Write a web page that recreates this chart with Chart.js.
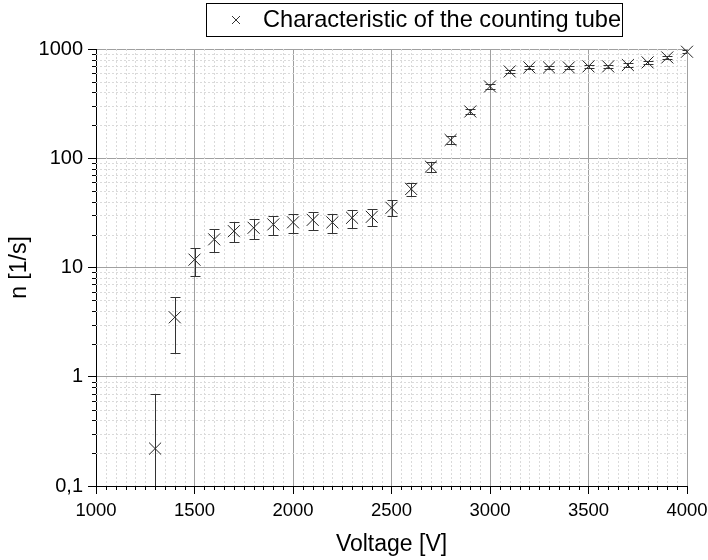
<!DOCTYPE html>
<html lang="en">
  <head>
    <meta charset="UTF-8" />
    <title>Counting tube characteristic</title>
    <script src="https://cdn.jsdelivr.net/npm/chart.js@4.4.0/dist/chart.umd.min.js"></script>
    <style>
      html,
      body {
        margin: 0;
        padding: 0;
        background: #fff;
      }
      #tubeChart {
        display: block;
      }
    </style>
  </head>
  <body>
    <canvas id="tubeChart" width="708" height="560"></canvas>

    <script>
      // measured points (voltage in V, count rate in 1/s, error)
      const voltage = [
        1300, 1400, 1500, 1600, 1700, 1800, 1900, 2000, 2100, 2200, 2300, 2400, 2500, 2600,
        2700, 2800, 2900, 3000, 3100, 3200, 3300, 3400, 3500, 3600, 3700, 3800, 3900, 4000,
      ];
      const rate = [
        0.22, 3.5, 11.8, 18.1, 21.5, 23.1, 24.8, 25.9, 27.3, 25.9, 28.5, 29.1, 35.2, 52.3,
        83.8, 147, 268, 454, 623, 678, 678, 678, 693, 693, 713, 754, 837, 944,
      ];
      const rateErr = [
        0.47, 1.85, 3.4, 4.2, 4.5, 4.7, 5.0, 5.3, 5.2, 5.0, 5.3, 5.3, 5.9, 7.0,
        8.7, 13, 16, 21, 25, 26, 26, 26, 26, 26, 27, 27, 29, 30,
      ];

      const xTicks = [1000, 1500, 2000, 2500, 3000, 3500, 4000];
      const yTicks = [0.1, 1, 10, 100, 1000];
      const yTickLabels = ["0,1", "1", "10", "100", "1000"];
      const seriesLabel = "Characteristic of the counting tube";

      const FONT = "Arial, 'Liberation Sans', sans-serif";

      // dotted minor grid + short minor ticks
      const minorGrid = {
        id: "minorGrid",
        beforeDatasetsDraw(chart) {
          const { ctx, chartArea: a, scales } = chart;
          const xs = [];
          for (let v = 1050; v < 4000; v += 50) if (v % 500 !== 0) xs.push(v);
          const ys = [];
          for (let d = 0; d < yTicks.length - 1; d++)
            for (let k = 2; k <= 9; k++) ys.push(yTicks[d] * k);

          ctx.save();
          ctx.strokeStyle = "#dadada";
          ctx.lineWidth = 1;
          ctx.setLineDash([2, 2]);
          ctx.beginPath();
          xs.forEach((v) => {
            const px = Math.round(scales.x.getPixelForValue(v)) + 0.5;
            ctx.moveTo(px, a.top);
            ctx.lineTo(px, a.bottom);
          });
          ys.forEach((v) => {
            const py = Math.round(scales.y.getPixelForValue(v)) + 0.5;
            ctx.moveTo(a.left, py);
            ctx.lineTo(a.right, py);
          });
          ctx.stroke();

          ctx.setLineDash([]);
          ctx.strokeStyle = "#000";
          ctx.beginPath();
          xs.forEach((v) => {
            const px = Math.round(scales.x.getPixelForValue(v)) + 0.5;
            ctx.moveTo(px, a.bottom);
            ctx.lineTo(px, a.bottom + 4);
          });
          ys.forEach((v) => {
            const py = Math.round(scales.y.getPixelForValue(v)) + 0.5;
            ctx.moveTo(a.left - 4, py);
            ctx.lineTo(a.left, py);
          });
          ctx.stroke();
          ctx.restore();
        },
      };

      const errorBars = {
        id: "errorBars",
        afterDatasetsDraw(chart) {
          const { ctx, chartArea: a, scales } = chart;
          ctx.save();
          ctx.beginPath();
          ctx.rect(a.left, a.top - 2, a.width, a.height + 2);
          ctx.clip();
          ctx.strokeStyle = "#333";
          ctx.lineWidth = 1;
          ctx.beginPath();
          voltage.forEach((v, i) => {
            const px = Math.round(scales.x.getPixelForValue(v)) + 0.5;
            const hi = Math.round(scales.y.getPixelForValue(rate[i] + rateErr[i])) + 0.5;
            const low = rate[i] - rateErr[i];
            const lo = low > 0 ? Math.round(scales.y.getPixelForValue(low)) + 0.5 : a.bottom + 10;
            ctx.moveTo(px, hi);
            ctx.lineTo(px, lo);
            ctx.moveTo(px - 5, hi);
            ctx.lineTo(px + 5, hi);
            ctx.moveTo(px - 5, lo);
            ctx.lineTo(px + 5, lo);
          });
          ctx.stroke();
          ctx.restore();
        },
      };

      // framed legend like the original
      const boxLegend = {
        id: "boxLegend",
        afterDraw(chart) {
          const ctx = chart.ctx;
          ctx.save();
          ctx.strokeStyle = "#000";
          ctx.lineWidth = 1;
          ctx.strokeRect(206.5, 3.5, 416, 33);
          ctx.strokeStyle = "#333";
          ctx.beginPath();
          ctx.moveTo(232, 16);
          ctx.lineTo(240, 24);
          ctx.moveTo(240, 16);
          ctx.lineTo(232, 24);
          ctx.stroke();
          ctx.fillStyle = "#000";
          ctx.font = "23.6px " + FONT;
          ctx.textBaseline = "middle";
          ctx.fillText(seriesLabel, 263, 20.5);
          ctx.restore();
        },
      };

      const data = {
        datasets: [
          {
            label: seriesLabel,
            data: voltage.map((v, i) => ({ x: v, y: rate[i] })),
            pointStyle: "crossRot",
            pointRadius: 8.5,
            pointHoverRadius: 8.5,
            borderColor: "#222",
            backgroundColor: "#222",
            borderWidth: 1,
            showLine: false,
            clip: false,
          },
        ],
      };

      const config = {
        type: "scatter",
        data: data,
        options: {
          responsive: false,
          animation: false,
          layout: { padding: { top: 49, right: 21, left: 0, bottom: 0 } },
          plugins: { legend: { display: false }, tooltip: { enabled: false } },
          scales: {
            x: {
              type: "linear",
              min: 1000,
              max: 4000,
              afterBuildTicks: (s) => {
                s.ticks = xTicks.map((v) => ({ value: v }));
              },
              afterFit: (s) => {
                s.height = 74;
                s.paddingLeft = 0;
                s.paddingRight = 0;
              },
              ticks: {
                color: "#000",
                font: { family: FONT, size: 18.5 },
                padding: 6,
                maxRotation: 0,
                autoSkip: false,
                callback: (v) => String(v),
              },
              grid: { color: "#a0a0a0", tickColor: "#000", tickLength: 8 },
              border: { color: "#000", width: 1 },
              title: {
                display: true,
                text: "Voltage [V]",
                color: "#000",
                font: { family: FONT, size: 23 },
                padding: { top: 0, bottom: 2 },
              },
            },
            y: {
              type: "logarithmic",
              min: 0.1,
              max: 1000,
              afterBuildTicks: (s) => {
                s.ticks = yTicks.map((v) => ({ value: v }));
              },
              afterFit: (s) => {
                s.width = 96;
                s.paddingTop = 0;
                s.paddingBottom = 0;
              },
              ticks: {
                color: "#000",
                font: { family: FONT, size: 20 },
                padding: 5,
                autoSkip: false,
                callback: (v, i) => yTickLabels[i],
              },
              grid: { color: "#a0a0a0", tickColor: "#000", tickLength: 8 },
              border: { color: "#000", width: 1 },
              title: {
                display: true,
                text: "n [1/s]",
                color: "#000",
                font: { family: FONT, size: 23 },
                padding: { top: 6, bottom: 0 },
              },
            },
          },
        },
        plugins: [minorGrid, errorBars, boxLegend],
      };

      const tubeChart = new Chart(document.getElementById("tubeChart"), config);
    </script>
  </body>
</html>
